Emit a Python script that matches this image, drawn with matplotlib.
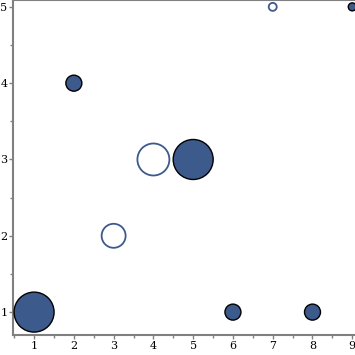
import matplotlib.pyplot as plt
from matplotlib.ticker import MultipleLocator

x = [1, 2, 3, 4, 5, 6, 7, 8, 9]
y = [1, 4, 2, 3, 3, 1, 5, 1, 5]
size = [5, 2, 3, 4, 5, 2, 1, 2, 1]
filled = [True, True, False, False, True, True, False, True, True]

blue = '#3d5a8c'

fig = plt.figure(figsize=(3.55, 3.55), dpi=100)
ax = fig.add_axes([13/355, 20/355, 350/355, 335/355])

# radius in px ~ 4 px per size unit
s = [(2 * v * 4 * 0.72) ** 2 for v in size]
fx = [a for a, f in zip(x, filled) if f]
fy = [b for b, f in zip(y, filled) if f]
fs = [c for c, f in zip(s, filled) if f]
hx = [a for a, f in zip(x, filled) if not f]
hy = [b for b, f in zip(y, filled) if not f]
hs = [c for c, f in zip(s, filled) if not f]

ax.scatter(fx, fy, s=fs, c=blue, edgecolors='black', linewidths=1.0, zorder=3, clip_on=False)
ax.scatter(hx, hy, s=hs, facecolors='white', edgecolors=blue, linewidths=1.3, zorder=3, clip_on=False)

ax.set_xlim(0.47, 9.27)
ax.set_ylim(0.70, 5.09)
ax.xaxis.set_major_locator(MultipleLocator(1))
ax.yaxis.set_major_locator(MultipleLocator(1))
ax.xaxis.set_minor_locator(MultipleLocator(0.5))
ax.yaxis.set_minor_locator(MultipleLocator(0.5))
ax.tick_params(which='major', length=3, width=1, color='#808080', labelsize=8, pad=1)
ax.tick_params(which='minor', length=2, width=1, color='#808080')
for lab in ax.get_xticklabels() + ax.get_yticklabels():
    lab.set_family('DejaVu Serif')
for sp in ax.spines.values():
    sp.set_color('#808080')
    sp.set_linewidth(1.5)
ax.spines['right'].set_visible(False)

fig.savefig('out.png', dpi=100)
